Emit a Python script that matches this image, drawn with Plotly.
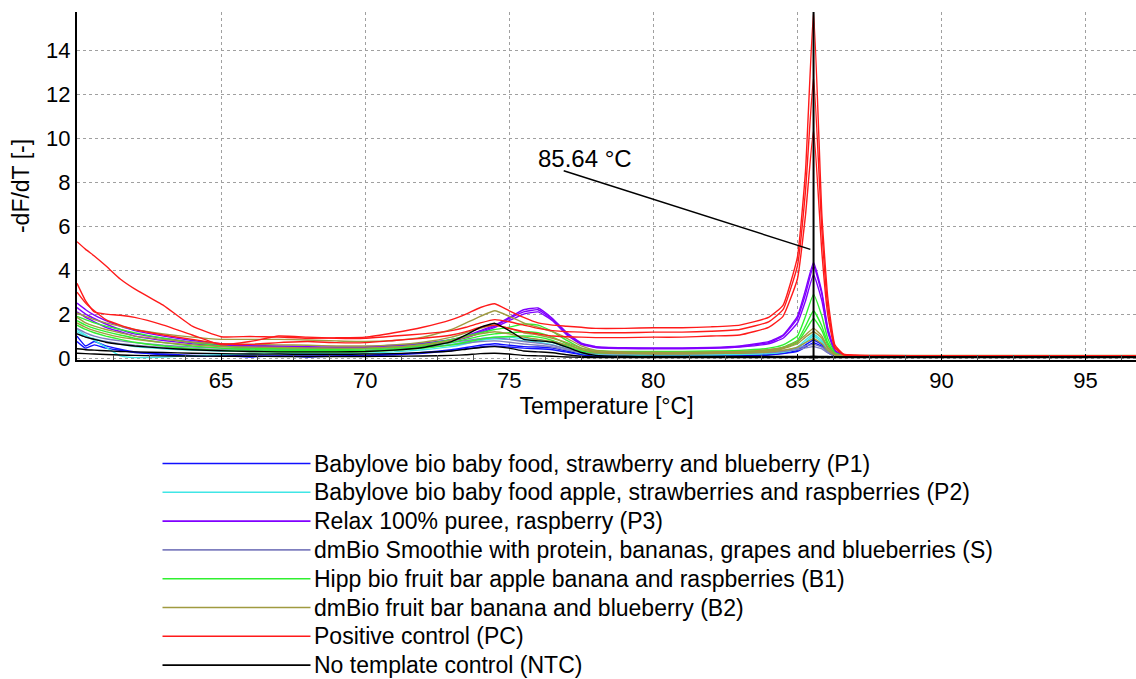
import plotly.graph_objects as go

# ---------------- data ----------------
temps = [60.0, 60.3, 60.6, 61.0, 61.5, 62.0, 63.0, 64.0, 65.0, 66.0,
         67.0, 68.0, 69.0, 70.0, 71.0, 72.0, 73.0, 73.5, 74.0, 74.5,
         75.0, 75.5, 76.0, 76.5, 77.0, 77.5, 78.0, 79.0, 80.0, 81.0,
         82.0, 83.0, 84.0, 84.5, 85.0, 85.28, 85.56, 85.85, 86.05, 86.3,
         86.6, 87.0, 88.0, 90.0, 93.0, 96.75]

p1_curves = [
    [1.0, 0.55, 0.75, 0.55, 0.4, 0.28, 0.15, 0.08, 0.1, 0.05,
     0.1, 0.05, 0.1, 0.12, 0.18, 0.25, 0.38, 0.48, 0.58, 0.65,
     0.58, 0.52, 0.5, 0.45, 0.32, 0.18, 0.1, 0.08, 0.08, 0.08,
     0.1, 0.12, 0.16, 0.22, 0.35, 0.6, 0.82, 0.6, 0.3, 0.1,
     0.05, 0.05, 0.04, 0.05, 0.04, 0.08],
    [0.75, 0.45, 0.6, 0.45, 0.35, 0.25, 0.18, 0.12, 0.12, 0.1,
     0.08, 0.1, 0.08, 0.1, 0.15, 0.22, 0.33, 0.42, 0.5, 0.55,
     0.5, 0.45, 0.42, 0.38, 0.27, 0.15, 0.08, 0.07, 0.07, 0.07,
     0.08, 0.1, 0.14, 0.2, 0.3, 0.5, 0.7, 0.52, 0.26, 0.09,
     0.05, 0.05, 0.05, 0.04, 0.05, 0.05],
]
p2_curves = [
    [1.3, 1.05, 0.8, 0.5, 0.1, 0.02, 0.05, 0.1, 0.15, 0.18,
     0.2, 0.2, 0.2, 0.22, 0.28, 0.38, 0.52, 0.65, 0.8, 0.88,
     0.85, 0.78, 0.72, 0.6, 0.4, 0.22, 0.15, 0.13, 0.13, 0.13,
     0.14, 0.16, 0.2, 0.26, 0.42, 0.72, 1.0, 0.72, 0.35, 0.12,
     0.06, 0.06, 0.05, 0.05, 0.05, 0.05],
    [1.2, 1.0, 0.88, 0.75, 0.62, 0.52, 0.42, 0.36, 0.32, 0.3,
     0.3, 0.3, 0.3, 0.32, 0.38, 0.48, 0.62, 0.75, 0.88, 0.95,
     0.95, 0.88, 0.82, 0.7, 0.48, 0.28, 0.2, 0.18, 0.17, 0.17,
     0.18, 0.2, 0.25, 0.32, 0.5, 0.82, 1.08, 0.8, 0.38, 0.13,
     0.07, 0.06, 0.06, 0.06, 0.06, 0.06],
]
p3_curves = [
    [2.5, 2.2, 1.95, 1.7, 1.45, 1.25, 1.0, 0.8, 0.65, 0.58,
     0.55, 0.52, 0.5, 0.52, 0.58, 0.68, 0.85, 1.0, 1.25, 1.5,
     1.85, 2.2, 2.28, 1.8, 1.15, 0.68, 0.52, 0.47, 0.46, 0.46,
     0.48, 0.55, 0.75, 1.05, 1.9, 3.1, 4.35, 3.0, 1.4, 0.35,
     0.12, 0.1, 0.1, 0.1, 0.1, 0.1],
    [2.3, 2.0, 1.8, 1.55, 1.3, 1.1, 0.9, 0.72, 0.6, 0.55,
     0.5, 0.48, 0.47, 0.48, 0.55, 0.65, 0.8, 0.95, 1.2, 1.45,
     1.8, 2.1, 2.2, 1.75, 1.1, 0.65, 0.5, 0.45, 0.44, 0.44,
     0.46, 0.52, 0.7, 1.0, 1.8, 2.9, 4.2, 2.9, 1.3, 0.33,
     0.12, 0.1, 0.1, 0.1, 0.1, 0.1],
    [2.1, 1.85, 1.65, 1.4, 1.2, 1.0, 0.8, 0.65, 0.55, 0.5,
     0.48, 0.46, 0.45, 0.46, 0.52, 0.62, 0.78, 0.92, 1.15, 1.4,
     1.7, 2.0, 2.1, 1.7, 1.05, 0.62, 0.48, 0.43, 0.42, 0.42,
     0.44, 0.5, 0.65, 0.9, 1.6, 2.6, 3.8, 2.6, 1.2, 0.3,
     0.11, 0.1, 0.1, 0.1, 0.1, 0.1],
]
s_curves = [
    [1.35, 1.15, 1.0, 0.88, 0.78, 0.7, 0.58, 0.5, 0.45, 0.42,
     0.4, 0.4, 0.4, 0.42, 0.47, 0.56, 0.7, 0.8, 0.88, 0.92,
     0.85, 0.75, 0.68, 0.58, 0.42, 0.3, 0.25, 0.24, 0.24, 0.24,
     0.25, 0.27, 0.3, 0.35, 0.45, 0.55, 0.62, 0.5, 0.28, 0.12,
     0.08, 0.08, 0.08, 0.08, 0.08, 0.08],
    [1.1, 0.95, 0.85, 0.75, 0.65, 0.58, 0.48, 0.42, 0.38, 0.35,
     0.33, 0.33, 0.33, 0.35, 0.4, 0.48, 0.6, 0.68, 0.75, 0.78,
     0.72, 0.64, 0.58, 0.5, 0.36, 0.25, 0.2, 0.19, 0.19, 0.19,
     0.2, 0.22, 0.25, 0.3, 0.38, 0.46, 0.52, 0.42, 0.24, 0.1,
     0.07, 0.07, 0.07, 0.07, 0.07, 0.07],
]
b1_curves = [
    [1.9, 1.75, 1.6, 1.45, 1.3, 1.15, 0.9, 0.7, 0.55, 0.45,
     0.42, 0.4, 0.4, 0.42, 0.5, 0.62, 0.85, 1.0, 1.15, 1.3,
     1.4, 1.55, 1.5, 1.2, 0.8, 0.45, 0.35, 0.3, 0.3, 0.3,
     0.32, 0.35, 0.45, 0.6, 1.0, 1.9, 2.9, 1.9, 0.9, 0.25,
     0.1, 0.1, 0.08, 0.08, 0.08, 0.08],
    [1.7, 1.5, 1.35, 1.2, 1.05, 0.9, 0.7, 0.55, 0.45, 0.38,
     0.35, 0.33, 0.33, 0.35, 0.42, 0.55, 0.72, 0.85, 1.0, 1.1,
     1.15, 1.2, 1.15, 0.95, 0.65, 0.38, 0.28, 0.25, 0.25, 0.25,
     0.27, 0.3, 0.38, 0.5, 0.8, 1.45, 2.15, 1.45, 0.7, 0.2,
     0.08, 0.08, 0.08, 0.08, 0.08, 0.08],
    [1.5, 1.3, 1.15, 1.0, 0.85, 0.72, 0.55, 0.42, 0.35, 0.3,
     0.28, 0.27, 0.27, 0.28, 0.35, 0.45, 0.6, 0.72, 0.85, 0.95,
     0.98, 1.0, 0.95, 0.8, 0.55, 0.32, 0.24, 0.22, 0.22, 0.22,
     0.24, 0.26, 0.33, 0.45, 0.7, 1.25, 1.8, 1.25, 0.6, 0.18,
     0.08, 0.08, 0.08, 0.08, 0.08, 0.08],
]
b2_curves = [
    [2.05, 1.9, 1.75, 1.6, 1.45, 1.3, 1.1, 0.95, 0.85, 0.85,
     0.85, 0.82, 0.78, 0.75, 0.8, 0.95, 1.3, 1.6, 1.9, 2.15,
     1.9, 1.6, 1.4, 1.2, 0.9, 0.55, 0.35, 0.28, 0.26, 0.26,
     0.28, 0.3, 0.38, 0.48, 0.75, 1.05, 1.35, 1.0, 0.5, 0.18,
     0.12, 0.12, 0.12, 0.12, 0.12, 0.12],
    [1.85, 1.6, 1.45, 1.3, 1.15, 1.0, 0.85, 0.72, 0.65, 0.62,
     0.6, 0.58, 0.55, 0.55, 0.6, 0.72, 0.95, 1.15, 1.35, 1.5,
     1.35, 1.15, 1.05, 0.9, 0.7, 0.45, 0.3, 0.24, 0.22, 0.22,
     0.24, 0.26, 0.32, 0.42, 0.65, 0.95, 1.2, 0.9, 0.45, 0.16,
     0.1, 0.1, 0.1, 0.1, 0.1, 0.1],
    [1.6, 1.4, 1.25, 1.1, 0.95, 0.85, 0.7, 0.6, 0.52, 0.5,
     0.48, 0.46, 0.45, 0.45, 0.5, 0.6, 0.8, 0.95, 1.1, 1.2,
     1.1, 0.95, 0.85, 0.75, 0.6, 0.38, 0.25, 0.2, 0.18, 0.18,
     0.2, 0.22, 0.27, 0.35, 0.5, 0.7, 0.88, 0.65, 0.35, 0.14,
     0.1, 0.1, 0.1, 0.1, 0.1, 0.1],
]
pc_curves = [
    [5.3, 4.95, 4.65, 4.2, 3.6, 3.15, 2.4, 1.45, 0.97, 0.98,
     0.95, 0.9, 0.92, 0.95, 1.15, 1.4, 1.75, 2.0, 2.3, 2.47,
     2.15, 1.85, 1.6, 1.5, 1.45, 1.4, 1.35, 1.35, 1.38, 1.38,
     1.42, 1.5, 1.85, 2.4, 4.6, 8.5, 15.8, 6.5, 2.8, 0.6,
     0.18, 0.13, 0.12, 0.1, 0.1, 0.1],
    [3.4, 2.6, 2.1, 2.0, 1.95, 1.85, 1.5, 1.05, 0.6, 0.75,
     1.0, 0.95, 0.9, 0.9, 1.0, 1.1, 1.25, 1.4, 1.6, 1.75,
     1.65, 1.5, 1.35, 1.25, 1.2, 1.18, 1.15, 1.15, 1.18, 1.18,
     1.22, 1.3, 1.65, 2.2, 4.2, 7.6, 12.8, 5.8, 2.4, 0.5,
     0.16, 0.12, 0.1, 0.1, 0.1, 0.1],
    [3.0, 2.5, 2.15, 1.75, 1.5, 1.3, 1.05, 0.85, 0.65, 0.62,
     0.7, 0.75, 0.7, 0.7, 0.8, 0.9, 1.05, 1.2, 1.4, 1.5,
     1.35, 1.2, 1.1, 1.0, 0.97, 0.95, 0.93, 0.93, 0.95, 0.95,
     1.0, 1.05, 1.4, 1.9, 3.6, 6.5, 10.4, 4.8, 2.0, 0.45,
     0.15, 0.12, 0.1, 0.1, 0.1, 0.1],
]
ntc_curves = [
    [1.1, 0.95, 0.85, 0.72, 0.62, 0.55, 0.45, 0.38, 0.33, 0.3,
     0.28, 0.28, 0.28, 0.3, 0.36, 0.48, 0.75, 1.05, 1.4, 1.58,
     1.25, 0.85, 0.78, 0.72, 0.5, 0.25, 0.12, 0.08, 0.07, 0.07,
     0.07, 0.07, 0.07, 0.07, 0.07, 0.07, 0.08, 0.07, 0.07, 0.06,
     0.06, 0.06, 0.06, 0.06, 0.06, 0.06],
    [0.42, 0.38, 0.36, 0.33, 0.3, 0.28, 0.25, 0.22, 0.2, 0.18,
     0.18, 0.17, 0.17, 0.18, 0.2, 0.25, 0.32, 0.4, 0.48, 0.52,
     0.45, 0.32, 0.28, 0.24, 0.15, 0.08, 0.05, 0.04, 0.04, 0.04,
     0.04, 0.04, 0.04, 0.04, 0.04, 0.04, 0.04, 0.04, 0.04, 0.04,
     0.04, 0.04, 0.04, 0.04, 0.04, 0.04],
    [0.22, 0.2, 0.18, 0.16, 0.14, 0.12, 0.1, 0.09, 0.08, 0.08,
     0.07, 0.07, 0.07, 0.07, 0.08, 0.09, 0.12, 0.15, 0.2, 0.22,
     0.18, 0.12, 0.1, 0.08, 0.05, 0.03, 0.02, 0.02, 0.02, 0.02,
     0.02, 0.02, 0.02, 0.02, 0.02, 0.02, 0.02, 0.02, 0.02, 0.02,
     0.02, 0.02, 0.02, 0.02, 0.02, 0.02],
]

sample_names = [
    "Babylove bio baby food, strawberry and blueberry (P1)",
    "Babylove bio baby food apple, strawberries and raspberries (P2)",
    "Relax 100% puree, raspberry (P3)",
    "dmBio Smoothie with protein, bananas, grapes and blueberries (S)",
    "Hipp bio fruit bar apple banana and raspberries (B1)",
    "dmBio fruit bar banana and blueberry (B2)",
    "Positive control (PC)",
    "No template control (NTC)",
]
sample_colors = ["#1010FF", "#40E6E6", "#8000FF", "#7F7FBF",
                 "#30F030", "#A09A40", "#FF1A1A", "#000000"]
sample_curves = [p1_curves, p2_curves, p3_curves, s_curves,
                 b1_curves, b2_curves, pc_curves, ntc_curves]

melt_temp = 85.56
melt_label = "85.64 °C"

x_ticks = [65, 70, 75, 80, 85, 90, 95]
y_ticks = [0, 2, 4, 6, 8, 10, 12, 14]

# ---------------- figure ----------------
FONT = "Liberation Sans, Arial, sans-serif"
W, H = 1136, 679
L, R, T, B = 77, 0, 12, 319

fig = go.Figure()
for name, color, curves in zip(sample_names, sample_colors, sample_curves):
    for ys in curves:
        fig.add_trace(go.Scatter(x=temps, y=ys, mode="lines", name=name,
                                 line=dict(color=color, width=1.4, shape="spline",
                                           smoothing=0.4),
                                 showlegend=False, hoverinfo="skip"))

# melt temperature marker
fig.add_shape(type="line", xref="x", yref="paper", x0=melt_temp, x1=melt_temp,
              y0=0, y1=1, line=dict(color="black", width=2))
fig.add_shape(type="line", xref="x", yref="y", x0=76.89, y0=8.53, x1=85.45, y1=4.95,
              line=dict(color="black", width=1.5))
fig.add_annotation(x=77.62, y=9.11, xref="x", yref="y", text=melt_label,
                   showarrow=False, font=dict(family=FONT, size=24, color="black"))

# manual legend below the plot
pw, ph = W - L - R, H - T - B
def paper_x(px):
    return (px - L) / pw
def paper_y(py):
    return (H - B - py) / ph

row0, row_step = 463.5, 28.8
for i, (name, color) in enumerate(zip(sample_names, sample_colors)):
    py = row0 + i * row_step
    fig.add_shape(type="line", xref="paper", yref="paper",
                  x0=paper_x(162.5), x1=paper_x(310.5), y0=paper_y(py), y1=paper_y(py),
                  line=dict(color=color, width=1.6))
    fig.add_annotation(xref="paper", yref="paper", x=paper_x(313), y=paper_y(py),
                       xanchor="left", yanchor="middle", showarrow=False, text=name,
                       borderpad=0, font=dict(family=FONT, size=23, color="black"))

grid = dict(showgrid=True, gridcolor="#A0A0A0", griddash="dot", gridwidth=1)
fig.update_layout(
    width=W, height=H, margin=dict(l=L, r=R, t=T, b=B, pad=0),
    paper_bgcolor="white", plot_bgcolor="white",
    font=dict(family=FONT, size=22, color="black"),
    showlegend=False,
    xaxis=dict(range=[60, 96.75], tickvals=x_ticks, ticks="inside", ticklen=6,
               tickcolor="black", showline=True, linecolor="black", linewidth=2,
               zeroline=False, tickfont=dict(size=22),
               minor=dict(dtick=1.25, tick0=60, ticks="inside", ticklen=5,
                          tickcolor="#555555", showgrid=False),
               title=dict(text="Temperature [°C]", standoff=4, font=dict(size=23)),
               **grid),
    yaxis=dict(range=[-0.09, 15.76], tickvals=y_ticks, ticks="", showline=True,
               linecolor="black", linewidth=2, zeroline=False, tickfont=dict(size=22),
               title=dict(text="-dF/dT [-]", standoff=10, font=dict(size=23)),
               **grid),
)

fig.write_html("out.html")
